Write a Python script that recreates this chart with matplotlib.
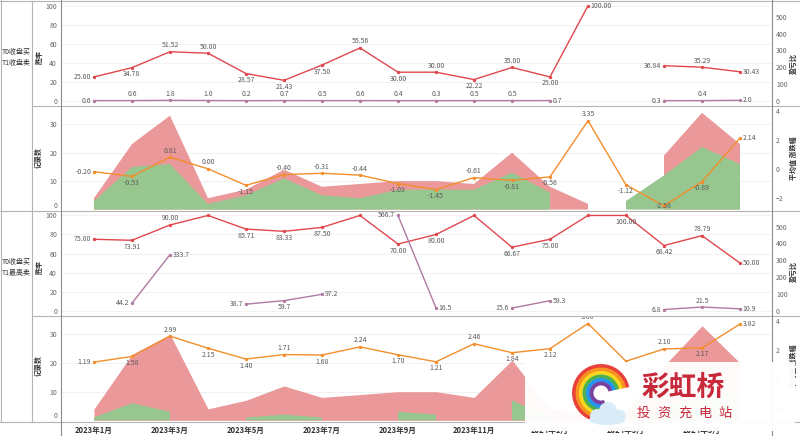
import numpy as np
import matplotlib
matplotlib.use("Agg")
import matplotlib.pyplot as plt
from matplotlib.lines import Line2D
from matplotlib.patches import Arc, Ellipse, Circle

plt.rcParams["font.family"] = ["Noto Sans CJK SC", "DejaVu Sans"]

nan = np.nan

# ── Data ──────────────────────────────────────────────────────────────────────
months = ["2023年1月", "2023年2月", "2023年3月", "2023年4月", "2023年5月", "2023年6月",
          "2023年7月", "2023年8月", "2023年9月", "2023年10月", "2023年11月", "2023年12月",
          "2024年1月", "2024年2月", "2024年3月", "2024年4月", "2024年5月", "2024年6月"]

strategies = ["T0收盘买\nT1收盘卖", "T0收盘买\nT1最高卖"]

# T0收盘买 / T1收盘卖
close_win_rate = [25.00, 34.78, 51.52, 50.00, 28.57, 21.43, 37.50, 55.56, 30.00,
                  30.00, 22.22, 35.00, 25.00, 100.00, nan, 36.84, 35.29, 30.43]
close_pl_ratio = [0.6, 0.6, 1.8, 1.0, 0.2, 0.7, 0.5, 0.6, 0.4,
                  0.3, 0.5, 0.5, 0.7, nan, nan, 0.3, 0.4, 2.0]
close_avg_chg = [-0.20, -0.53, 0.81, 0.00, -1.15, -0.40, -0.31, -0.44, -1.03,
                 -1.45, -0.61, -0.81, -0.56, 3.35, -1.12, -2.58, -0.89, 2.14]
close_wins = [1, 8, 17, 2, 2, 3, 3, 5, 3, 3, 2, 7, 2, 2, nan, 7, 12, 7]
close_losses = [3, 15, 16, 2, 5, 11, 5, 4, 7, 7, 7, 13, 6, nan, 3, 12, 22, 16]

# T0收盘买 / T1最高卖
high_win_rate = [75.00, 73.91, 90.00, 100.00, 85.71, 83.33, 87.50, 100.00, 70.00,
                 80.00, 100.00, 66.67, 75.00, 100.00, 100.00, 68.42, 78.79, 50.00]
high_pl_ratio = [nan, 44.2, 333.7, nan, 38.7, 59.7, 97.2, nan, 566.7,
                 16.5, nan, 15.6, 59.3, nan, nan, 6.8, 21.5, 10.9]
high_avg_chg = [1.19, 1.58, 2.99, 2.15, 1.40, 1.71, 1.68, 2.24, 1.70,
                1.21, 2.46, 1.84, 2.12, 3.86, 1.25, 2.10, 2.17, 3.82]
high_wins = [3, 17, 27, 4, 6, 10, 7, 9, 7, 8, 8, 14, 3, 2, 3, 13, 26, 10]
high_losses = [1, 6, 3, nan, 1, 2, 1, nan, 3, 2, nan, 7, 1, nan, nan, 6, 7, 10]

win_rates = [close_win_rate, high_win_rate]
pl_ratios = [close_pl_ratio, high_pl_ratio]
avg_chgs = [close_avg_chg, high_avg_chg]
wins = [close_wins, high_wins]
losses = [close_losses, high_losses]

# ── Styling ───────────────────────────────────────────────────────────────────
W, H = 800, 436
PX0, PX1 = 60.7, 772.3
XLIM = (-0.876, 17.85)
TOP_Y = [(1, 105.7), (210.7, 315.7)]
BOT_Y = [(105.7, 210.7), (315.7, 421.5)]

C_RED = "#e0474c"
C_PURPLE = "#b07aa1"
C_ORANGE = "#f28e2b"
C_RED_AREA = "#ea9899"
C_GREEN_AREA = "#98c68f"
C_LABEL = "#5a5a5a"
C_TICK = "#666666"
C_GRID = "#efefef"
C_SEP = "#b4b4b4"
FS = 5
OFF = 1.8


def box(x0, y0, x1, y1):
    return [x0 / W, 1 - y1 / H, (x1 - x0) / W, (y1 - y0) / H]


def clean(ax):
    for s in ax.spines.values():
        s.set_visible(False)
    ax.patch.set_visible(False)
    ax.set_xlim(*XLIM)
    ax.tick_params(axis="both", length=0, labelsize=FS, labelcolor=C_TICK, pad=2.6)
    ax.set_xticks([])


def point_labels(ax, y, fmt, keep_above=False):
    # Tableau-like placement: segment ends go sideways, peaks above, dips below
    y = np.asarray(y, dtype=float)
    n = len(y)
    lo, hi = ax.get_ylim()
    prev_pos = None
    for i in range(n):
        if np.isnan(y[i]):
            prev_pos = None
            continue
        has_prev = i > 0 and not np.isnan(y[i - 1])
        has_next = i < n - 1 and not np.isnan(y[i + 1])
        if not has_prev and not has_next:
            pos = "above"
        elif not has_prev:
            pos = "left"
        elif not has_next:
            pos = "right"
        elif keep_above:
            pos = "above"
        elif y[i] == y[i - 1] and prev_pos == "above":
            pos = "below"
        else:
            pos = "above" if y[i] >= (y[i - 1] + y[i + 1]) / 2 else "below"
        prev_pos = pos
        # a dip too close to the pane floor keeps its label on the point
        if pos == "below" and (y[i] - lo) / (hi - lo) < 0.09:
            pos = "on"
        off, ha, va = {"above": ((0, OFF), "center", "bottom"),
                       "below": ((0, -OFF), "center", "top"),
                       "on": ((0, 0), "center", "center"),
                       "left": ((-2, 0), "right", "center"),
                       "right": ((2, 0), "left", "center")}[pos]
        ax.annotate(fmt % y[i], (i, y[i]), xytext=off, textcoords="offset points",
                    ha=ha, va=va, fontsize=FS, color=C_LABEL, clip_on=True,
                    annotation_clip=True)


fig = plt.figure(figsize=(W / 100, H / 100), dpi=100)
x = np.arange(len(months))

for r in range(2):
    # ── top pane: 胜率 + 盈亏比 ──
    ax = fig.add_axes(box(PX0, TOP_Y[r][0], PX1, TOP_Y[r][1]))
    clean(ax)
    ax.set_ylim(-5.3, 105)
    ax.set_yticks([0, 20, 40, 60, 80, 100])
    for t in [0, 20, 40, 60, 80, 100]:
        ax.axhline(t, color=C_GRID, lw=0.6, zorder=0)
    ax.plot(x, win_rates[r], color=C_RED, lw=1.0, marker="o", ms=1.4, zorder=3)
    point_labels(ax, win_rates[r], "%.2f")

    ax2 = ax.twinx()
    clean(ax2)
    ax2.set_ylim(-30, 595)
    ax2.set_yticks([0, 100, 200, 300, 400, 500])
    ax2.plot(x, pl_ratios[r], color=C_PURPLE, lw=1.0, marker="o", ms=1.4, zorder=3)
    point_labels(ax2, pl_ratios[r], "%.1f", keep_above=(r == 0))

    fig.text(39 / W, 1 - (57 + 210 * r) / H, "胜率", rotation=90, ha="center",
             va="center", fontsize=FS, weight="bold", color="#333333")
    fig.text(793 / W, 1 - (63 + 208 * r) / H, "盈亏比", rotation=90, ha="center",
             va="center", fontsize=FS, weight="bold", color="#333333")
    fig.text(2 / W, 1 - (57.5 + 210 * r) / H, strategies[r], ha="left", va="center",
             fontsize=FS, color="#333333", linespacing=1.5)

    # ── bottom pane: 记录数 + 平均值 涨跌幅 ──
    bx = fig.add_axes(box(PX0, BOT_Y[r][0], PX1, BOT_Y[r][1]))
    clean(bx)
    bx.set_ylim(-0.4, 36.5)
    bx.set_yticks([0, 10, 20, 30])
    bx.get_yticklabels()[0].set_va("bottom")  # keep the 0 inside the pane
    for t in [10, 20, 30]:
        bx.axhline(t, color=C_GRID, lw=0.6, zorder=0)
    w = np.asarray(wins[r], dtype=float)
    l = np.asarray(losses[r], dtype=float)
    total = np.where(np.isnan(w), nan, w + np.nan_to_num(l))
    bx.fill_between(x, 0, total, color=C_RED_AREA, lw=0, zorder=1)
    bx.fill_between(x, 0, l, color=C_GREEN_AREA, lw=0, zorder=2)

    bx2 = bx.twinx()
    clean(bx2)
    bx2.set_ylim(-2.92, 4.4)
    bx2.set_yticks([-2, 0, 2, 4])
    bx2.plot(x, avg_chgs[r], color=C_ORANGE, lw=1.0, marker="o", ms=1.4, zorder=3)
    point_labels(bx2, avg_chgs[r], "%.2f")

    fig.text(38 / W, 1 - (157 + 208 * r) / H, "记录数", rotation=90, ha="center",
             va="center", fontsize=FS, weight="bold", color="#333333")
    fig.text(793 / W, 1 - (158 + 208 * r) / H, "平均值 涨跌幅", rotation=90,
             ha="center", va="center", fontsize=FS, weight="bold", color="#333333")

    if r == 1:
        bx.set_xticks(x[::2])
        bx.set_xticklabels(months[::2], fontsize=5.5, color="#333333", weight="bold")
        bx.tick_params(axis="x", length=0, pad=3)

# ── separators ────────────────────────────────────────────────────────────────
def sep(x0, y0, x1, y1, color=C_SEP, lw=0.8):
    fig.add_artist(Line2D([x0 / W, x1 / W], [1 - y0 / H, 1 - y1 / H],
                          transform=fig.transFigure, color=color, lw=lw))


sep(0, 1, 800, 1)
sep(32.3, 105.7, 800, 105.7)
sep(0, 210.7, 800, 210.7)
sep(32.3, 315.7, 800, 315.7)
sep(0, 421.7, 800, 421.7)
sep(0.6, 0, 0.6, 421.7)
sep(32.3, 1, 32.3, 421.7)
sep(PX0, 0, PX0, 436, color="#8c8c8c")
sep(PX1, 0, PX1, 436, color="#8c8c8c")

# ── watermark logo ────────────────────────────────────────────────────────────
wm = fig.add_axes(box(525, 362, 795, 430.5))
wm.set_zorder(5)
wm.set_xlim(525, 795)
wm.set_ylim(H - 430.5, H - 362)
wm.set_facecolor("white")
wm.patch.set_alpha(0.96)
for s in wm.spines.values():
    s.set_visible(False)
wm.set_xticks([])
wm.set_yticks([])

rainbow = ["#e8413c", "#f7931e", "#f9d71c", "#4caf50", "#2196f3", "#7b3fa0"]
cx, cy = 601, H - 393
for i, c in enumerate(rainbow):
    rad = 27 - i * 3.5
    wm.add_patch(Arc((cx, cy), 2 * rad, 2 * rad, theta1=12, theta2=292, color=c, lw=2.8))
for (ex, ey, er) in [(597, 20, 7), (608, 25, 9), (619, 20, 6.5)]:
    wm.add_patch(Circle((ex, ey), er, color="#d9ecf8", lw=0))
wm.add_patch(Ellipse((607, 16), 36, 10, color="#d9ecf8", lw=0))

wm.text(683, H - 388, "彩虹桥", fontsize=20, weight="bold", color="#c7283a",
        ha="center", va="center")
for i, ch in enumerate("投资充电站"):
    wm.text(643.5 + i * 20.5, H - 413, ch, fontsize=9.5, color="#c7283a",
            ha="center", va="center")

fig.savefig("out.png", dpi=100)
